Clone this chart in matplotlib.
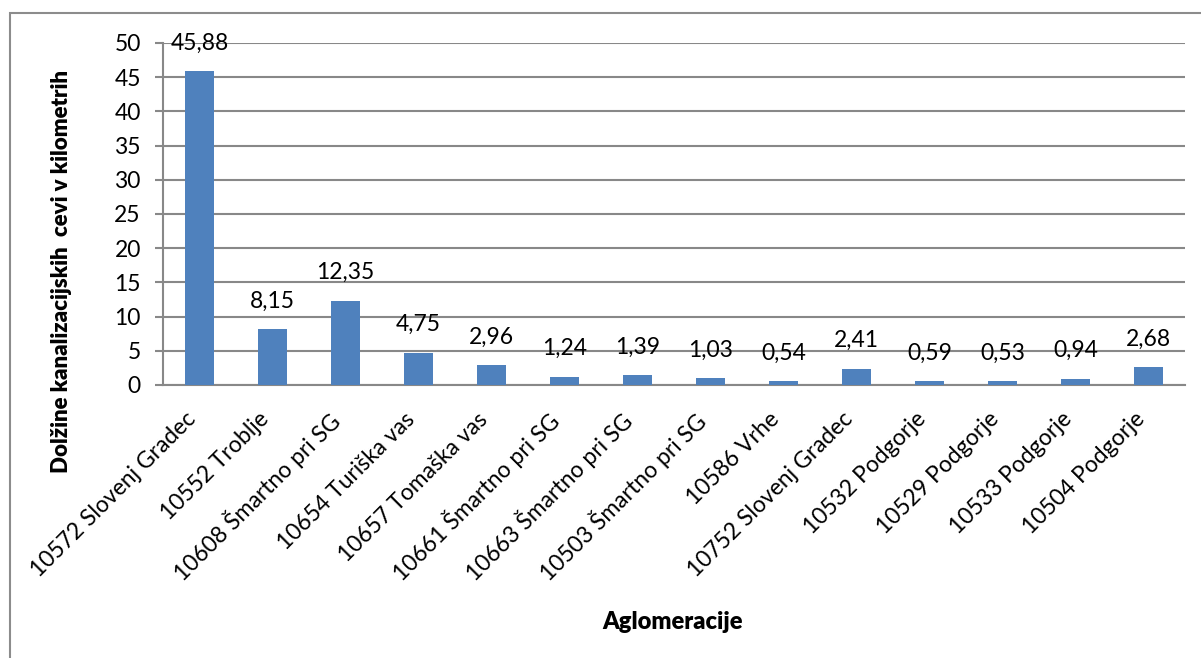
import matplotlib.pyplot as plt
import matplotlib.transforms as mtransforms
from matplotlib.patches import Rectangle

plt.rcParams['font.family'] = ['Lato', 'DejaVu Sans']
plt.rcParams['font.size'] = 16

categories = ["10572 Slovenj Gradec", "10552 Troblje", "10608 Šmartno pri SG",
              "10654 Turiška vas", "10657 Tomaška vas", "10661 Šmartno pri SG",
              "10663 Šmartno pri SG", "10503 Šmartno pri SG", "10586 Vrhe",
              "10752 Slovenj Gradec", "10532 Podgorje", "10529 Podgorje",
              "10533 Podgorje", "10504 Podgorje"]
lengths = [45.88, 8.15, 12.35, 4.75, 2.96, 1.24, 1.39, 1.03, 0.54, 2.41, 0.59, 0.53, 0.94, 2.68]

fig = plt.figure(figsize=(12.01, 6.58), dpi=100)
ax = fig.add_axes([0.1357, 0.4149, 0.8510, 0.5198])

# chart border (Excel style, clipped at right/bottom)
fig.patches.append(Rectangle((10 / 1201, -0.1), 1.2, 1 - 13 / 658 + 0.1,
                             transform=fig.transFigure, fill=False,
                             edgecolor='#8c8c8c', linewidth=1.5))

x = list(range(len(categories)))
ax.bar(x, lengths, width=0.41, color='#4F81BD', zorder=3)

for xi, v in zip(x, lengths):
    ax.annotate(f"{v:.2f}".replace('.', ','), (xi, v), xytext=(0, 20),
                textcoords='offset points', ha='center', va='center',
                fontsize=16.5, zorder=4)

ax.set_xlim(-0.5, len(categories) - 0.5)
ax.set_ylim(0, 50)
ax.set_yticks(range(0, 51, 5))
ax.yaxis.grid(True, color='#888888', linewidth=1.5)
ax.set_axisbelow(True)

ax.set_xticks(x)
ax.set_xticklabels(categories, rotation=45, ha='right', va='top', fontsize=16.5)
shift = mtransforms.ScaledTranslation(8 / 100, 0, fig.dpi_scale_trans)
for lbl in ax.get_xticklabels():
    lbl.set_transform(lbl.get_transform() + shift)
ax.tick_params(axis='x', length=0, pad=17)
ax.tick_params(axis='y', length=6, width=1.5, color='#888888', pad=10, labelsize=16.5)

for s in ['top', 'right']:
    ax.spines[s].set_visible(False)
for s in ['left', 'bottom']:
    ax.spines[s].set_color('#888888')
    ax.spines[s].set_linewidth(1.5)

ax.set_ylabel("Dolžine kanalizacijskih  cevi v kilometrih", fontweight='heavy', fontsize=16)
ax.yaxis.set_label_coords(-0.089, 0.333)
fig.text(0.5604, 0.0547, "Aglomeracije", fontweight='heavy', ha='center', va='center', fontsize=17)

fig.savefig('out.png', dpi=100)
